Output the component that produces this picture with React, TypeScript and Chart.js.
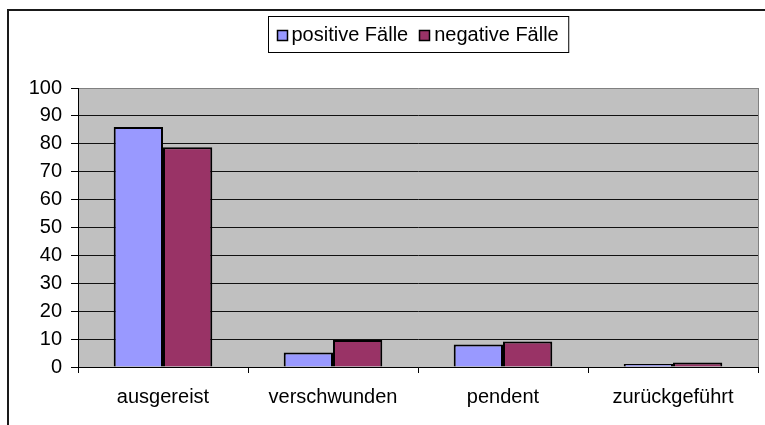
import React, { useEffect, useRef } from "react";
import { Chart, registerables } from "chart.js";

Chart.register(...registerables);

const categories = ["ausgereist", "verschwunden", "pendent", "zurückgeführt"];
const positiveLabel = "positive Fälle";
const negativeLabel = "negative Fälle";
const positiveValues = [86, 5.2, 8.1, 1.1];
const negativeValues = [78.8, 9.7, 9.1, 1.6];
const yMin = 0;
const yMax = 100;
const yStep = 10;

const FONT = "'Liberation Sans', Arial, sans-serif";
const FONT_SIZE = 20;
const W = 765;
const H = 425;

const decorPlugin = {
  id: "decor",
  beforeDraw(chart: any) {
    const { ctx, chartArea } = chart;
    ctx.save();
    ctx.fillStyle = "#ffffff";
    ctx.fillRect(0, 0, chart.width, chart.height);
    ctx.fillStyle = "#C0C0C0";
    ctx.fillRect(chartArea.left, chartArea.top, chartArea.right - chartArea.left, chartArea.bottom - chartArea.top);
    ctx.restore();
  },
  afterDraw(chart: any) {
    const { ctx, chartArea } = chart;
    ctx.save();
    // right border of plot area
    ctx.strokeStyle = "#808080";
    ctx.lineWidth = 1;
    ctx.beginPath();
    ctx.moveTo(Math.round(chartArea.right) + 0.5, chartArea.top);
    ctx.lineTo(Math.round(chartArea.right) + 0.5, chartArea.bottom);
    ctx.stroke();

    // outer chart border (cropped on right/bottom)
    ctx.strokeStyle = "#1a1a1a";
    ctx.lineWidth = 2;
    ctx.beginPath();
    ctx.moveTo(8, H + 2);
    ctx.lineTo(8, 10);
    ctx.lineTo(W + 2, 10);
    ctx.stroke();

    // legend
    ctx.font = FONT_SIZE + "px " + FONT;
    ctx.textBaseline = "middle";
    const items = chart.data.datasets.map((d: any) => ({
      label: d.label,
      color: d.backgroundColor,
    }));
    const pad = 8;
    const sq = 10;
    const gapSqText = 5;
    const gapItems = 11;
    let total = pad * 2;
    items.forEach((it: any, i: number) => {
      total += sq + gapSqText + ctx.measureText(it.label).width;
      if (i < items.length - 1) total += gapItems;
    });
    total += 2;
    const cx = 418.5;
    const boxTop = 16.5;
    const boxH = 36;
    const left = Math.round(cx - total / 2) + 0.5;
    ctx.strokeStyle = "#000";
    ctx.lineWidth = 1;
    ctx.fillStyle = "#fff";
    ctx.fillRect(left, boxTop, total, boxH);
    ctx.strokeRect(left, boxTop, total, boxH);
    const midY = boxTop + boxH / 2;
    let x = left + pad;
    items.forEach((it: any) => {
      const sy = Math.round(midY - sq / 2) + 0.5;
      ctx.fillStyle = it.color;
      ctx.fillRect(Math.round(x) + 0.5, sy, sq, sq);
      ctx.strokeStyle = "#000";
      ctx.lineWidth = 1.5;
      ctx.strokeRect(Math.round(x) + 0.5, sy, sq, sq);
      x += sq + gapSqText;
      ctx.fillStyle = "#000";
      ctx.fillText(it.label, x, midY + 1);
      x += ctx.measureText(it.label).width + gapItems;
    });
    ctx.restore();
  },
};

export default function App() {
  const canvasRef = useRef<HTMLCanvasElement | null>(null);

  useEffect(() => {
    if (!canvasRef.current) return;
    const chart = new Chart(canvasRef.current, {
      type: "bar",
      data: {
        labels: categories,
        datasets: [
          {
            label: positiveLabel,
            data: positiveValues,
            backgroundColor: "#9999FF",
            borderColor: "#000000",
            borderWidth: 2,
          },
          {
            label: negativeLabel,
            data: negativeValues,
            backgroundColor: "#993366",
            borderColor: "#000000",
            borderWidth: 2,
          },
        ],
      },
      options: {
        responsive: false,
        animation: false,
        devicePixelRatio: 1,
        layout: { padding: { top: 88, right: 7, left: 0, bottom: 0 } },
        datasets: {
          bar: { categoryPercentage: 0.58, barPercentage: 1 },
        },
        plugins: {
          legend: { display: false },
          tooltip: { enabled: false },
          title: { display: false },
        },
        scales: {
          x: {
            afterFit(scale: any) {
              scale.height = 58;
            },
            grid: {
              offset: true,
              drawOnChartArea: false,
              drawTicks: true,
              tickLength: 6,
              color: "#000",
              tickColor: "#000",
            },
            border: { color: "#000", width: 1 },
            ticks: {
              color: "#000",
              padding: 12,
              font: { family: FONT, size: FONT_SIZE },
              maxRotation: 0,
            },
          },
          y: {
            min: yMin,
            max: yMax,
            afterFit(scale: any) {
              scale.width = 78;
            },
            grid: {
              color: (c: any) => (c.tick && c.tick.value === yMax ? "#808080" : "#111"),
              tickColor: "#000",
              tickLength: 7,
              lineWidth: 1,
            },
            border: { color: "#000", width: 1 },
            ticks: {
              stepSize: yStep,
              color: "#000",
              padding: 9,
              font: { family: FONT, size: FONT_SIZE },
            },
          },
        },
      },
      plugins: [decorPlugin],
    });
    return () => chart.destroy();
  }, []);

  return (
    <div style={{ position: "absolute", left: 0, top: 0, width: W, height: H, background: "#fff" }}>
      <canvas ref={canvasRef} width={W} height={H} style={{ display: "block" }} />
    </div>
  );
}
